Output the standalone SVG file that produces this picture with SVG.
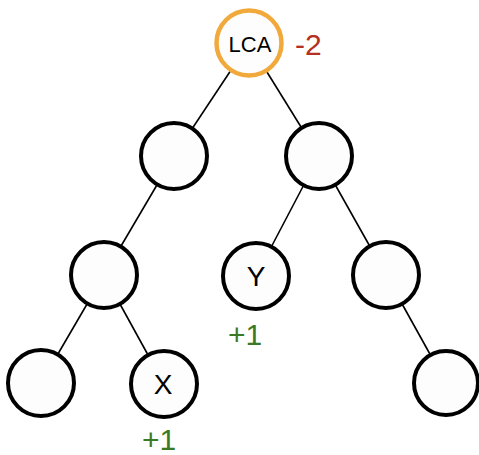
<svg xmlns="http://www.w3.org/2000/svg" width="479" height="455" viewBox="0 0 479 455">
<style>
.node{fill:#fdfdfd;stroke:#000;stroke-width:4}
.lca{fill:#fdfdfd;stroke:#f2a93b;stroke-width:4.5}
.edge{stroke:#000;stroke-width:1.6;fill:none}
.lbl{font-family:"Liberation Sans",Arial,sans-serif;fill:#000;text-anchor:middle}
.pos{font-family:"Liberation Sans",Arial,sans-serif;fill:#3a7a24;font-size:30px;text-anchor:middle}
.neg{font-family:"Liberation Sans",Arial,sans-serif;fill:#b33022;font-size:30px}
</style>
<rect width="479" height="455" fill="#fff"/>
<g id="connectors">
<line class="edge" x1="249" y1="43" x2="174" y2="156"/>
<line class="edge" x1="249" y1="43" x2="319" y2="156"/>
<line class="edge" x1="174" y1="156" x2="104" y2="275"/>
<line class="edge" x1="319" y1="156" x2="256" y2="276"/>
<line class="edge" x1="319" y1="156" x2="386" y2="275"/>
<line class="edge" x1="104" y1="275" x2="41" y2="383"/>
<line class="edge" x1="104" y1="275" x2="164" y2="384"/>
<line class="edge" x1="386" y1="275" x2="446" y2="383"/>
</g>
<g id="lca">
<circle class="lca" cx="249" cy="43" r="32.5"/>
<text class="lbl" x="250" y="52" font-size="22">LCA</text>
</g>
<g id="lca-count"><text class="neg" x="295" y="55">-2</text></g>
<g id="n-l1"><circle class="node" cx="174" cy="156" r="33"/></g>
<g id="n-r1"><circle class="node" cx="319" cy="156" r="33"/></g>
<g id="n-ll"><circle class="node" cx="104" cy="275" r="33"/></g>
<g id="n-y">
<circle class="node" cx="256" cy="276" r="33"/>
<text class="lbl" x="256" y="286" font-size="28">Y</text>
</g>
<g id="y-count"><text class="pos" x="245" y="345">+1</text></g>
<g id="n-rr"><circle class="node" cx="386" cy="275" r="33"/></g>
<g id="n-lll"><circle class="node" cx="41" cy="383" r="33"/></g>
<g id="n-x">
<circle class="node" cx="164" cy="384" r="33"/>
<text class="lbl" x="163" y="394" font-size="28">X</text>
</g>
<g id="x-count"><text class="pos" x="159" y="450">+1</text></g>
<g id="n-rrr"><circle class="node" cx="446" cy="383" r="32"/></g>
</svg>
